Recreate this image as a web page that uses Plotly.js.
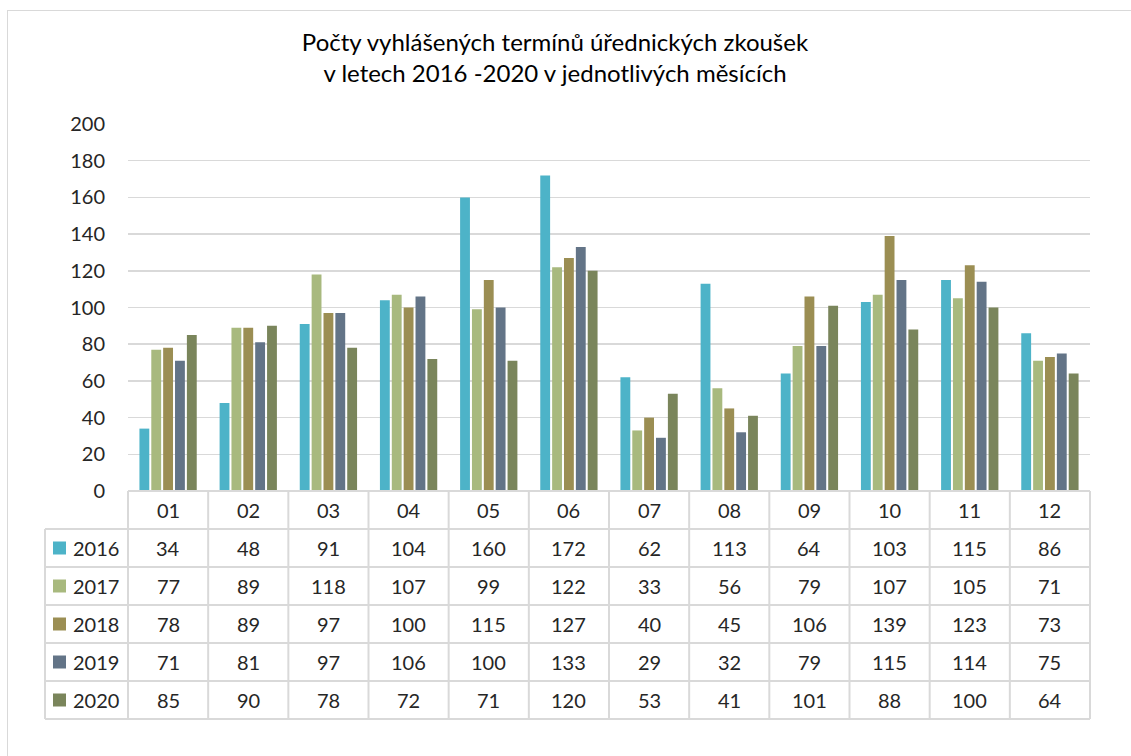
<!DOCTYPE html>
<html>
<head>
<meta charset="utf-8">
<script src="https://cdn.plot.ly/plotly-3.0.1.min.js"></script>
<style>
  html, body { margin: 0; padding: 0; background: #fff; }
  #wrap { position: relative; width: 1131px; height: 756px; overflow: hidden; }
  #chart { position: absolute; left: 0; top: 0; width: 1131px; height: 756px; }
  #frame { position: absolute; left: 7px; top: 10px; width: 1200px; height: 800px;
           border: 1.5px solid #d9d9d9; pointer-events: none; }
</style>
</head>
<body>
<div id="wrap">
  <div id="chart"></div>
  <div id="frame"></div>
</div>
<script>
// ---- data ----
const months = ['01','02','03','04','05','06','07','08','09','10','11','12'];
const years = ['2016','2017','2018','2019','2020'];
const v2016 = [34, 48, 91, 104, 160, 172, 62, 113, 64, 103, 115, 86];
const v2017 = [77, 89, 118, 107, 99, 122, 33, 56, 79, 107, 105, 71];
const v2018 = [78, 89, 97, 100, 115, 127, 40, 45, 106, 139, 123, 73];
const v2019 = [71, 81, 97, 106, 100, 133, 29, 32, 79, 115, 114, 75];
const v2020 = [85, 90, 78, 72, 71, 120, 53, 41, 101, 88, 100, 64];
const yTicks = [0, 20, 40, 60, 80, 100, 120, 140, 160, 180, 200];
const title = 'Počty vyhlášených termínů úřednických zkoušek<br>v letech 2016 -2020 v jednotlivých měsících';

const series = [v2016, v2017, v2018, v2019, v2020];
const colors = ['#4db3c8', '#a8b97e', '#9b8e53', '#637487', '#7a855b'];

// ---- layout geometry ----
const W = 1131, H = 756;
const mL = 128, mR = 41, mT = 124, mB = 37;
const plotW = W - mL - mR, plotH = H - mT - mB;
const tableH = 228;                 // pixels of table below axis
const d = tableH / plotH;           // paper fraction occupied by table
const nRows = years.length + 1;
const rowH = d / nRows;
const xLeft = (45 - mL) / plotW;    // left edge of the label column
const gridCol = '#d9d9d9';
const font = 'Lato, "Open Sans", sans-serif';
const txtCol = '#262626';

const traces = years.map((y, i) => ({
  type: 'bar',
  name: y,
  x: months,
  y: series[i],
  marker: { color: colors[i], line: { width: 0 } },
  hoverinfo: 'x+y+name'
}));

const shapes = [];
const annotations = [];
const n = months.length;

// horizontal table lines
shapes.push({ type: 'line', xref: 'paper', yref: 'paper', x0: 0, x1: 1, y0: d, y1: d,
              line: { color: gridCol, width: 2 } });
for (let k = 1; k <= nRows; k++) {
  const y = d - k * rowH;
  shapes.push({ type: 'line', xref: 'paper', yref: 'paper', x0: xLeft, x1: 1, y0: y, y1: y,
                line: { color: gridCol, width: 2 } });
}
// vertical table lines
for (let i = 0; i <= n; i++) {
  const x = i / n;
  shapes.push({ type: 'line', xref: 'paper', yref: 'paper', x0: x, x1: x, y0: 0, y1: d,
                line: { color: gridCol, width: 2 } });
}
shapes.push({ type: 'line', xref: 'paper', yref: 'paper', x0: xLeft, x1: xLeft, y0: 0, y1: d - rowH,
              line: { color: gridCol, width: 2 } });

// header labels (category index positions on the x axis)
months.forEach((m, c) => {
  annotations.push({ x: c, xref: 'x', y: d - rowH / 2, yref: 'paper', text: m, showarrow: false,
                     xanchor: 'center', yanchor: 'middle', font: { family: font, size: 20, color: txtCol } });
});
// data rows
const sq = 13 / plotH;
years.forEach((yr, r) => {
  const yc = d - (r + 1.5) * rowH;
  shapes.push({ type: 'rect', xref: 'paper', yref: 'paper',
                x0: (53 - mL) / plotW, x1: (66 - mL) / plotW, y0: yc - sq / 2, y1: yc + sq / 2,
                fillcolor: colors[r], line: { width: 0 } });
  annotations.push({ x: (71 - mL) / plotW, xref: 'paper', y: yc, yref: 'paper', text: yr, showarrow: false,
                     xanchor: 'left', yanchor: 'middle', font: { family: font, size: 20, color: txtCol } });
  months.forEach((m, c) => {
    annotations.push({ x: c, xref: 'x', y: yc, yref: 'paper', text: String(series[r][c]), showarrow: false,
                       xanchor: 'center', yanchor: 'middle', font: { family: font, size: 20, color: txtCol } });
  });
});

const layout = {
  width: W, height: H,
  margin: { l: mL, r: mR, t: mT, b: mB, pad: 0 },
  paper_bgcolor: '#ffffff', plot_bgcolor: '#ffffff',
  showlegend: false,
  barmode: 'group', bargap: 0.26, bargroupgap: 0.17,
  title: { text: title, x: 555 / W, xref: 'container', xanchor: 'center',
           y: 1 - 51 / H, yref: 'container', yanchor: 'middle',
           font: { family: font, size: 24, color: '#000' } },
  xaxis: { type: 'category', range: [-0.5, n - 0.5], showticklabels: false, showgrid: false,
           zeroline: false, showline: false, ticks: '', fixedrange: true },
  yaxis: { domain: [d, 1], range: [0, 200], tickvals: yTicks, showgrid: true, gridcolor: gridCol,
           gridwidth: 1.5, zeroline: false, showline: false, ticks: '', ticklabelstandoff: 22,
           tickfont: { family: font, size: 20, color: txtCol }, fixedrange: true },
  shapes: shapes,
  annotations: annotations,
  font: { family: font }
};

Plotly.newPlot('chart', traces, layout, { displayModeBar: false, staticPlot: true });
</script>
</body>
</html>
